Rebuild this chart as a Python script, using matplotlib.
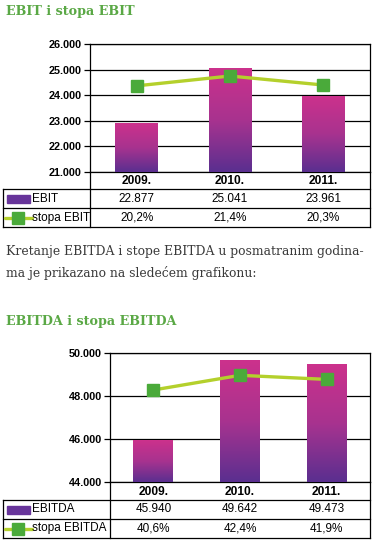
import matplotlib
matplotlib.use("Agg")
import matplotlib.pyplot as plt
import numpy as np
from matplotlib.colors import LinearSegmentedColormap
from matplotlib.transforms import blended_transform_factory
from matplotlib.lines import Line2D
from matplotlib.patches import Rectangle

# data
years = ['2009.', '2010.', '2011.']
ebit = [22877, 25041, 23961]
ebit_labels = ['22.877', '25.041', '23.961']
ebit_rate = [20.2, 21.4, 20.3]
ebit_rate_labels = ['20,2%', '21,4%', '20,3%']
ebitda = [45940, 49642, 49473]
ebitda_labels = ['45.940', '49.642', '49.473']
ebitda_rate = [40.6, 42.4, 41.9]
ebitda_rate_labels = ['40,6%', '42,4%', '41,9%']

W, H = 379, 541
DPI = 100
fig = plt.figure(figsize=(W / DPI, H / DPI), dpi=DPI)
fig.patch.set_facecolor('white')

green_title = '#5aa845'
line_col = '#b4d02c'
mark_col = '#4aaa3a'
bar_cmap = LinearSegmentedColormap.from_list('bar', ['#5a2f90', '#a8338f', '#cc318c'])
sans = ['Liberation Sans', 'DejaVu Sans']


def px_axes(left, top, right, bottom):
    return fig.add_axes([left / W, 1 - bottom / H, (right - left) / W, (bottom - top) / H])


def fy(y):
    # pixel row -> figure fraction
    return 1 - y / H


def chart(left, top, right, bottom, vals, ylim, ticks, rates, rlim,
          row_h, name, rate_name, val_labels, rate_labels):
    ax = px_axes(left, top, right, bottom)
    x = np.arange(len(years))
    bars = ax.bar(x, vals, width=0.46, color='none', zorder=3)
    grad = np.linspace(0, 1, 256).reshape(-1, 1)
    for b in bars:
        x0 = b.get_x()
        ax.imshow(grad, cmap=bar_cmap, origin='lower', aspect='auto',
                  extent=[x0, x0 + b.get_width(), ylim[0], b.get_height()], zorder=3)
    ax.set_xlim(-0.5, len(years) - 0.5)
    ax.set_ylim(*ylim)
    ax.set_yticks(ticks)
    ax.set_yticklabels(['{:,}'.format(t).replace(',', '.') for t in ticks],
                       fontsize=7.8, fontweight='bold', family=sans)
    ax.set_xticks([])
    ax.grid(axis='y', color='black', linewidth=0.9, zorder=1)
    ax.set_axisbelow(True)
    ax.tick_params(axis='y', length=4, width=0.9, pad=2, color='black')
    for s in ax.spines.values():
        s.set_linewidth(0.9)

    ax2 = ax.twinx()
    ax2.plot(x, rates, color=line_col, linewidth=2.4, marker='s', markersize=8,
             markerfacecolor=mark_col, markeredgecolor=mark_col, zorder=5)
    ax2.set_ylim(*rlim)
    ax2.set_yticks([])
    for s in ax2.spines.values():
        s.set_visible(False)

    # data table under the chart
    tr = blended_transform_factory(ax.transData, fig.transFigure)
    r0 = bottom
    r1 = r0 + row_h[0]
    r2 = r1 + row_h[1]
    r3 = r2 + row_h[2]
    lw = 0.9
    fig.add_artist(Line2D([3 / W, right / W], [fy(r1), fy(r1)], color='black', lw=lw))
    fig.add_artist(Line2D([3 / W, right / W], [fy(r2), fy(r2)], color='black', lw=lw))
    fig.add_artist(Line2D([3 / W, right / W], [fy(r3), fy(r3)], color='black', lw=lw))
    fig.add_artist(Line2D([3 / W, 3 / W], [fy(r1), fy(r3)], color='black', lw=lw))
    fig.add_artist(Line2D([left / W, left / W], [fy(r0), fy(r3)], color='black', lw=lw))
    fig.add_artist(Line2D([right / W, right / W], [fy(r0), fy(r3)], color='black', lw=lw))
    for i in range(len(years)):
        fig.text(x[i], fy((r0 + r1) / 2 + 1), years[i], transform=tr, ha='center', va='center',
                 fontsize=8.6, fontweight='bold', family=sans)
        fig.text(x[i], fy((r1 + r2) / 2), val_labels[i], transform=tr, ha='center',
                 va='center', fontsize=8.5, family=sans)
        fig.text(x[i], fy((r2 + r3) / 2), rate_labels[i], transform=tr, ha='center',
                 va='center', fontsize=8.5, family=sans)
    # legend keys
    cy = (r1 + r2) / 2
    fig.add_artist(Rectangle((7 / W, fy(cy + 4)), 23 / W, 8 / H, color='#67349a'))
    fig.text(32 / W, fy(cy), name, ha='left', va='center', fontsize=8.5, family=sans)
    cy = (r2 + r3) / 2
    fig.add_artist(Line2D([5 / W, 32 / W], [fy(cy), fy(cy)], color=line_col, lw=2.4,
                          solid_capstyle='round'))
    fig.add_artist(Line2D([18 / W], [fy(cy)], marker='s', markersize=8, color=mark_col))
    fig.text(32 / W, fy(cy), rate_name, ha='left', va='center', fontsize=8.5, family=sans)
    return ax


fig.text(6 / W, fy(11), 'EBIT i stopa EBIT', ha='left', va='center', fontsize=9.2,
         fontweight='bold', family='DejaVu Serif', color=green_title)
chart(90, 44, 370, 172, ebit, (21000, 26000), [21000, 22000, 23000, 24000, 25000, 26000],
      ebit_rate, (9.7, 25.3), [17, 19, 19], 'EBIT', 'stopa EBIT', ebit_labels, ebit_rate_labels)

fig.text(6 / W, fy(252), 'Kretanje EBITDA i stope EBITDA u posmatranim godina-',
         ha='left', va='center', fontsize=8.95, family='DejaVu Serif', color='#3a3a3a')
fig.text(6 / W, fy(273), 'ma je prikazano na sledećem grafikonu:',
         ha='left', va='center', fontsize=8.95, family='DejaVu Serif', color='#3a3a3a')

fig.text(6 / W, fy(321), 'EBITDA i stopa EBITDA', ha='left', va='center', fontsize=9.2,
         fontweight='bold', family='DejaVu Serif', color=green_title)
chart(110, 353, 370, 482, ebitda, (44000, 50000), [44000, 46000, 48000, 50000],
      ebitda_rate, (29.34, 45.13), [18, 19, 19], 'EBITDA', 'stopa EBITDA',
      ebitda_labels, ebitda_rate_labels)

fig.savefig('out.png', dpi=DPI, facecolor='white')
